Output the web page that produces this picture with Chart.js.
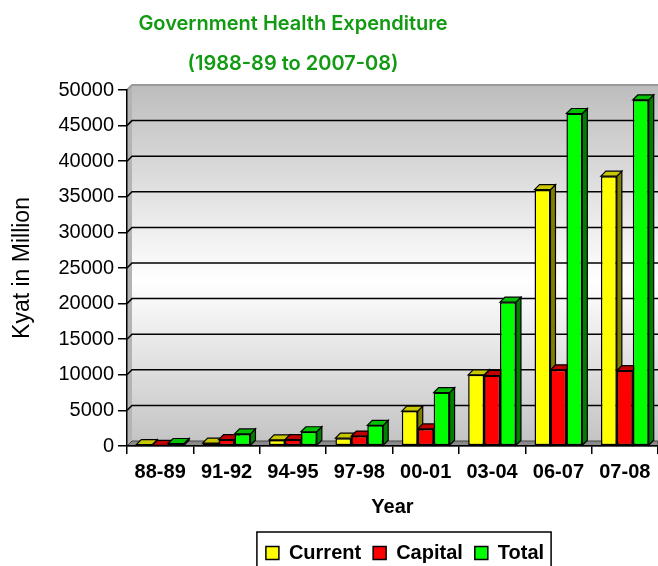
<!DOCTYPE html>
<html>
<head>
<meta charset="utf-8">
<script src="https://cdn.jsdelivr.net/npm/chart.js@4.4.0/dist/chart.umd.min.js"></script>
<style>
  html, body { margin: 0; padding: 0; background: #fff; }
  #wrap { width: 658px; height: 566px; }
</style>
</head>
<body>
<div id="wrap"><canvas id="chart" width="658" height="566"></canvas></div>
<script>
// values (Kyat in million)
const years = ['88-89', '91-92', '94-95', '97-98', '00-01', '03-04', '06-07', '07-08'];
const current = [200, 400, 850, 1100, 4900, 10000, 36000, 37900];
const capital = [100, 900, 900, 1400, 2400, 9900, 10700, 10600];
const total = [350, 1700, 2000, 2900, 7500, 20200, 46700, 48600];
const yMax = 50000;
const yStep = 5000;

// colours: front / top / side
const fronts = ['#ffff00', '#ff0000', '#00ff00'];
const tops = ['#c8c800', '#c00000', '#00c000'];
const sides = ['#808000', '#800000', '#008000'];
const depth = 5;

// draws the walls, the floor, grid on the back wall and the 3d faces of the bars
const fake3d = {
  id: 'fake3d',
  beforeDraw(chart) {
    const { ctx, chartArea: a } = chart;
    const d = depth;
    ctx.save();
    const g = ctx.createLinearGradient(0, a.top - d, 0, a.bottom - d);
    g.addColorStop(0, '#bdbdbd');
    g.addColorStop(0.55, '#ffffff');
    g.addColorStop(1, '#c4c4c4');
    ctx.fillStyle = g;
    ctx.fillRect(a.left + d, a.top - d, a.right - a.left - d, a.bottom - a.top);
    // left wall
    ctx.fillStyle = '#b4b4b4';
    ctx.beginPath();
    ctx.moveTo(a.left, a.top);
    ctx.lineTo(a.left + d, a.top - d);
    ctx.lineTo(a.left + d, a.bottom - d);
    ctx.lineTo(a.left, a.bottom);
    ctx.closePath();
    ctx.fill();
    // floor
    ctx.fillStyle = '#8a8a8a';
    ctx.beginPath();
    ctx.moveTo(a.left, a.bottom);
    ctx.lineTo(a.left + d, a.bottom - d);
    ctx.lineTo(a.right, a.bottom - d);
    ctx.lineTo(a.right, a.bottom);
    ctx.closePath();
    ctx.fill();
    ctx.strokeStyle = '#444';
    ctx.lineWidth = 1;
    ctx.stroke();
    // top edge of the back wall
    ctx.strokeStyle = '#9a9a9a';
    ctx.lineWidth = 2;
    ctx.beginPath();
    ctx.moveTo(a.left, a.top);
    ctx.lineTo(a.left + d, a.top - d);
    ctx.lineTo(a.right, a.top - d);
    ctx.stroke();
    ctx.restore();
  },
  beforeDatasetsDraw(chart) {
    const { ctx, chartArea: a } = chart;
    const d = depth;
    const ys = chart.scales.y;
    ctx.save();
    ctx.strokeStyle = '#000';
    ctx.lineWidth = 1.5;
    ys.ticks.forEach(t => {
      if (t.value === 0 || t.value === yMax) return;
      const py = ys.getPixelForValue(t.value);
      ctx.beginPath();
      ctx.moveTo(a.left, py);
      ctx.lineTo(a.left + d, py - d);
      ctx.lineTo(a.right, py - d);
      ctx.stroke();
    });
    // side + top of every bar, front is drawn by chart.js on top of this
    ctx.lineWidth = 1.2;
    chart.data.datasets.forEach((ds, di) => {
      const meta = chart.getDatasetMeta(di);
      meta.data.forEach(bar => {
        const l = bar.x - bar.width / 2;
        const r = bar.x + bar.width / 2;
        const top = bar.y;
        const base = bar.base;
        ctx.fillStyle = sides[di];
        ctx.beginPath();
        ctx.moveTo(r, top);
        ctx.lineTo(r + d, top - d);
        ctx.lineTo(r + d, base - d);
        ctx.lineTo(r, base);
        ctx.closePath();
        ctx.fill();
        ctx.stroke();
        ctx.fillStyle = tops[di];
        ctx.beginPath();
        ctx.moveTo(l, top);
        ctx.lineTo(l + d, top - d);
        ctx.lineTo(r + d, top - d);
        ctx.lineTo(r, top);
        ctx.closePath();
        ctx.fill();
        ctx.stroke();
      });
    });
    ctx.restore();
  },
  afterLayout(chart) {
    // legend sits right of centre in the original, title left of it
    const lg = chart.legend;
    lg.left += 76;
    lg.right += 76;
    chart.titleBlock.left -= 36;
    chart.titleBlock.right -= 36;
  },
  afterDraw(chart) {
    const lg = chart.legend;
    const boxes = lg.legendHitBoxes;
    if (!boxes || !boxes.length) return;
    const first = boxes[0];
    const last = boxes[boxes.length - 1];
    const ctx = chart.ctx;
    ctx.save();
    ctx.strokeStyle = '#000';
    ctx.lineWidth = 1.5;
    ctx.strokeRect(first.left - 9, lg.top + 1, last.left + last.width - first.left + 16, chart.height);
    ctx.restore();
  }
};

const barStyle = i => ({
  backgroundColor: fronts[i],
  borderColor: '#000',
  borderWidth: 1.5,
  borderSkipped: false,
  categoryPercentage: 0.72,
  barPercentage: 1.0
});

new Chart(document.getElementById('chart'), {
  type: 'bar',
  data: {
    labels: years,
    datasets: [
      { label: 'Current', data: current, ...barStyle(0) },
      { label: 'Capital', data: capital, ...barStyle(1) },
      { label: 'Total', data: total, ...barStyle(2) }
    ]
  },
  options: {
    responsive: false,
    animation: false,
    layout: { padding: { left: 0, right: 0, top: 0, bottom: -7 } },
    plugins: {
      title: {
        display: true,
        text: ['Government Health Expenditure', '(1988-89 to 2007-08)'],
        color: '#129a12',
        font: { family: 'Inter', size: 20, weight: '600', lineHeight: 2 },
        padding: { top: 4, bottom: 6 }
      },
      legend: {
        position: 'bottom',
        labels: {
          color: '#000',
          font: { family: 'Liberation Sans', size: 20, weight: 'bold' },
          boxWidth: 13,
          boxHeight: 13,
          padding: 12
        }
      },
      tooltip: { enabled: false }
    },
    scales: {
      x: {
        afterFit: s => { s.height = 85; },
        grid: { display: true, drawOnChartArea: false, color: '#000', lineWidth: 1.5, tickLength: 8 },
        border: { color: '#000', width: 1.5 },
        ticks: { color: '#000', padding: 6, font: { family: 'Liberation Sans', size: 20, weight: 'bold' } },
        title: {
          display: true, text: 'Year', color: '#000',
          font: { family: 'Liberation Sans', size: 20, weight: 'bold' },
          padding: { top: 11, bottom: 12 }
        }
      },
      y: {
        min: 0,
        max: yMax,
        afterFit: s => { s.width = 127; },
        grid: { drawOnChartArea: false, color: '#000', lineWidth: 1.5, tickLength: 9 },
        border: { color: '#000', width: 1.5 },
        ticks: {
          stepSize: yStep, color: '#000', padding: 4,
          font: { family: 'Liberation Sans', size: 20 },
          callback: v => String(v)
        },
        title: {
          display: true, text: 'Kyat in Million', color: '#000',
          font: { family: 'Liberation Sans', size: 23 },
          padding: { top: 9, bottom: 0 }
        }
      }
    }
  },
  plugins: [fake3d]
});
</script>
</body>
</html>
